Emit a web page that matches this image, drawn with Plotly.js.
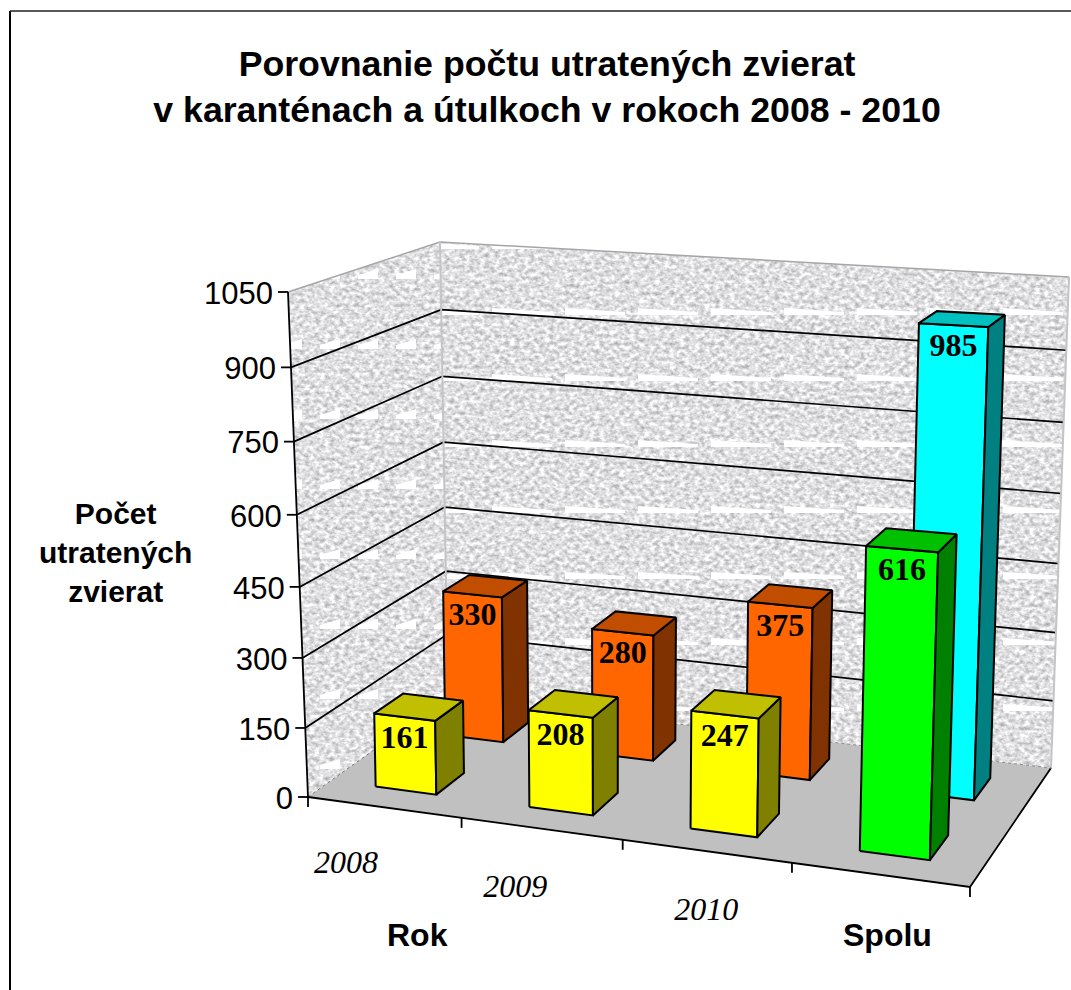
<!DOCTYPE html>
<html>
<head>
<meta charset="utf-8">
<script src="https://cdn.plot.ly/plotly-3.0.1.min.js"></script>
<style>html,body{margin:0;padding:0;background:#fff}#chart{width:1071px;height:990px}</style>
</head>
<body>
<div id="chart"></div>
<script>
// ---- data ----
const categories = ['2008', '2009', '2010', 'Spolu'];
const frontRow = [161, 208, 247, 616];
const backRow = [330, 280, 375, 985];
const valueTicks = [0, 150, 300, 450, 600, 750, 900, 1050];
const axisMax = 1050;

// ---- palette: [front, side, top] ----
const palette = {
  yellow: ['#ffff00', '#808000', '#c0c000'],
  orange: ['#ff6600', '#803300', '#c04d00'],
  green: ['#00ff00', '#008000', '#00c000'],
  cyan: ['#00ffff', '#008080', '#00c0c0']
};

// ---- perspective scale: (u along categories, v depth, t height) -> page ----
const g = -0.0938, h = 0.1104, C = -0.04;
function project(u, v, t) {
  const den = g * u + h * v + 1 + C * t;
  return [
    (571 * u + 189.5 * v + 308 - 24.5 * t) / den,
    (6.8 * u - 23.05 * v + 797 - 510 * t) / den
  ];
}
// chart box corners
const FL = [308, 797], FR = [970, 887], BR = [1051, 768], BL = [448, 697];
const TFL = [288, 292], TBL = [440, 242], TBR = [1069, 277];
function wallPoint(F, T, u, v, t) {
  const w0 = g * u + h * v + 1, w1 = w0 - 0.05;
  const d = w0 * (1 - t) + w1 * t;
  return [(F[0] * w0 * (1 - t) + T[0] * w1 * t) / d, (F[1] * w0 * (1 - t) + T[1] * w1 * t) / d];
}
const leftEdge = t => wallPoint(FL, TFL, 0, 0, t);
const cornerEdge = t => wallPoint(BL, TBL, 0, 1, t);
const rightEdge = t => wallPoint(BR, TBR, 1, 1, t);

function poly(points, fill, lineColor, lineWidth) {
  const closed = points.concat([points[0]]);
  return {
    type: 'scatter', mode: 'lines', x: closed.map(p => p[0]), y: closed.map(p => p[1]),
    fill: 'toself', fillcolor: fill, line: {color: lineColor, width: lineWidth},
    hoverinfo: 'skip', showlegend: false
  };
}
function segments(list, color, width, dash) {
  const x = [], y = [];
  list.forEach(s => { s.forEach(p => { x.push(p[0]); y.push(p[1]); }); x.push(null); y.push(null); });
  return {
    type: 'scatter', mode: 'lines', x, y, line: {color, width, dash: dash || 'solid'},
    hoverinfo: 'skip', showlegend: false
  };
}

const traces = [];
// gridlines
const gridT = valueTicks.slice(1, -1).map(v => v / axisMax);
traces.push(segments(gridT.map(t => [leftEdge(t), cornerEdge(t), rightEdge(t)]), '#000000', 1.7));
// wall edges
traces.push(segments([[TFL, TBL, TBR]], '#a6a6a6', 1.5));
traces.push(segments([[BL, TBL], [BR, TBR]], '#c4c4c4', 2));
// floor
traces.push(poly([FL, FR, BR, BL], '#c0c0c0', 'rgba(0,0,0,0)', 0));
traces.push(segments([[FL, BL]], '#777777', 1, 'dot'));
traces.push(segments([[FL, FR, BR]], '#000000', 1.8));
traces.push(segments([[BL, BR]], '#8c8c8c', 1, 'dot'));
// value axis with ticks
traces.push(segments([[TFL, FL]], '#000000', 1.8));
traces.push(segments(valueTicks.map(v => {
  const p = leftEdge(v / axisMax);
  return [[p[0] - 10, p[1]], p];
}), '#000000', 1.8));
// category ticks
const catTicks = [0, 1, 2, 3, 4].map(i => project(i / categories.length, 0, 0));
traces.push(segments(catTicks.map(p => [p, [p[0], p[1] + 10]]), '#000000', 1.8));

// bars
const barWidth = 0.1, barDepth = 0.2;
const labelX = [], labelY = [], labelText = [];
function addBar(i, rowCenter, value, colors) {
  const u0 = (i + 0.5) / categories.length - barWidth / 2, u1 = u0 + barWidth;
  const v0 = rowCenter - barDepth / 2, v1 = v0 + barDepth;
  const t = value / axisMax;
  traces.push(poly([project(u0, v0, 0), project(u1, v0, 0), project(u1, v0, t), project(u0, v0, t)], colors[0], '#000000', 2));
  traces.push(poly([project(u1, v0, 0), project(u1, v1, 0), project(u1, v1, t), project(u1, v0, t)], colors[1], '#000000', 2));
  traces.push(poly([project(u0, v0, t), project(u1, v0, t), project(u1, v1, t), project(u0, v1, t)], colors[2], '#000000', 2));
  const c = project((u0 + u1) / 2, v0, t);
  labelX.push(c[0]); labelY.push(c[1] + 23); labelText.push(String(value));
}
backRow.forEach((val, i) => addBar(i, 0.75, val, i === 3 ? palette.cyan : palette.orange));
frontRow.forEach((val, i) => addBar(i, 0.25, val, i === 3 ? palette.green : palette.yellow));

// value labels on bars
traces.push({
  type: 'scatter', mode: 'text', x: labelX, y: labelY, text: labelText, textposition: 'middle center',
  textfont: {family: 'Liberation Serif', size: 32, color: '#000000', weight: 700},
  hoverinfo: 'skip', showlegend: false
});
// value axis labels
const tickPts = valueTicks.map(v => leftEdge(v / axisMax));
traces.push({
  type: 'scatter', mode: 'text', x: tickPts.map(p => p[0] - 15), y: tickPts.map(p => p[1] + 4),
  text: valueTicks.map(String), textposition: 'middle left',
  textfont: {family: 'Liberation Sans', size: 31, color: '#000000'},
  hoverinfo: 'skip', showlegend: false
});
// year labels
const yearOffset = [[-38, 58], [-26, 60], [0, 61]];
const yearPts = categories.slice(0, 3).map((c, i) => project((i + 0.5) / categories.length, 0, 0));
traces.push({
  type: 'scatter', mode: 'text',
  x: yearPts.map((p, i) => p[0] + yearOffset[i][0]), y: yearPts.map((p, i) => p[1] + yearOffset[i][1]),
  text: categories.slice(0, 3), textposition: 'middle center',
  textfont: {family: 'Liberation Serif', size: 32, color: '#000000', style: 'italic'},
  hoverinfo: 'skip', showlegend: false
});

// ---- wall texture (SVG image placed under the plot) ----
function pts(list) { return list.map(p => p[0].toFixed(1) + ',' + p[1].toFixed(1)).join(' '); }
const backPoly = pts([BL, BR, TBR, TBL]), leftPoly = pts([FL, BL, TBL, TFL]);
const svg = `<svg xmlns="http://www.w3.org/2000/svg" width="1071" height="990" viewBox="0 0 1071 990">
<defs>
<filter id="n" x="0" y="0" width="100%" height="100%" color-interpolation-filters="sRGB">
<feTurbulence type="fractalNoise" baseFrequency="0.2 0.26" numOctaves="3" seed="7"/>
<feColorMatrix type="matrix" values="0.55 0 0 0 0.6  0.55 0 0 0 0.6  0.55 0 0 0 0.61  0 0 0 0 1"/>
</filter>
<pattern id="bw" patternUnits="userSpaceOnUse" x="565" y="308" width="73" height="66"><polygon fill="#fff" points="0,0 60,4 60,7 0,7"/></pattern>
<pattern id="lw" patternUnits="userSpaceOnUse" x="320" y="619" width="38" height="70"><polygon fill="#fff" points="0,10 0,6 20,0 20,10"/></pattern>
<clipPath id="bc"><polygon points="${backPoly}"/></clipPath>
<clipPath id="lc"><polygon points="${leftPoly}"/></clipPath>
</defs>
<g clip-path="url(#bc)"><rect width="1071" height="990" filter="url(#n)"/><rect width="1071" height="990" fill="url(#bw)"/></g>
<g clip-path="url(#lc)"><rect width="1071" height="990" filter="url(#n)"/><rect width="1071" height="990" fill="url(#lw)"/></g>
</svg>`;

const layout = {
  width: 1071, height: 990,
  margin: {l: 0, r: 0, t: 0, b: 0},
  paper_bgcolor: '#ffffff', plot_bgcolor: 'rgba(0,0,0,0)',
  showlegend: false,
  xaxis: {range: [0, 1071], visible: false, fixedrange: true},
  yaxis: {range: [990, 0], visible: false, fixedrange: true},
  title: {
    text: 'Porovnanie počtu utratených zvierat<br>v karanténach a útulkoch v rokoch 2008 - 2010',
    font: {family: 'Liberation Sans', size: 35.7, color: '#000000', weight: 700},
    x: 547 / 1071, xanchor: 'center', y: 1 - 76 / 990, yanchor: 'middle'
  },
  images: [{source: 'data:image/svg+xml;charset=utf-8,' + encodeURIComponent(svg),
    xref: 'paper', yref: 'paper', x: 0, y: 1, sizex: 1, sizey: 1, xanchor: 'left', yanchor: 'top',
    sizing: 'stretch', layer: 'below'}],
  shapes: [
    {type: 'line', xref: 'x', yref: 'y', x0: 10, x1: 10, y0: 11, y1: 990, line: {color: '#000000', width: 2}},
    {type: 'line', xref: 'x', yref: 'y', x0: 10, x1: 1071, y0: 11, y1: 11, line: {color: '#222222', width: 1.5}}
  ],
  annotations: [
    {text: 'Počet<br>utratených<br>zvierat', xref: 'x', yref: 'y', x: 115, y: 552,
      showarrow: false, align: 'center', font: {family: 'Liberation Sans', size: 30, color: '#000000', weight: 700}},
    {text: 'Rok', xref: 'x', yref: 'y', x: 417, y: 935, showarrow: false,
      font: {family: 'Liberation Sans', size: 32, color: '#000000', weight: 700}},
    {text: categories[3], xref: 'x', yref: 'y', x: 887, y: 935, showarrow: false,
      font: {family: 'Liberation Sans', size: 32, color: '#000000', weight: 700}}
  ]
};
Plotly.newPlot('chart', traces, layout, {displayModeBar: false, staticPlot: true});
</script>
</body>
</html>
